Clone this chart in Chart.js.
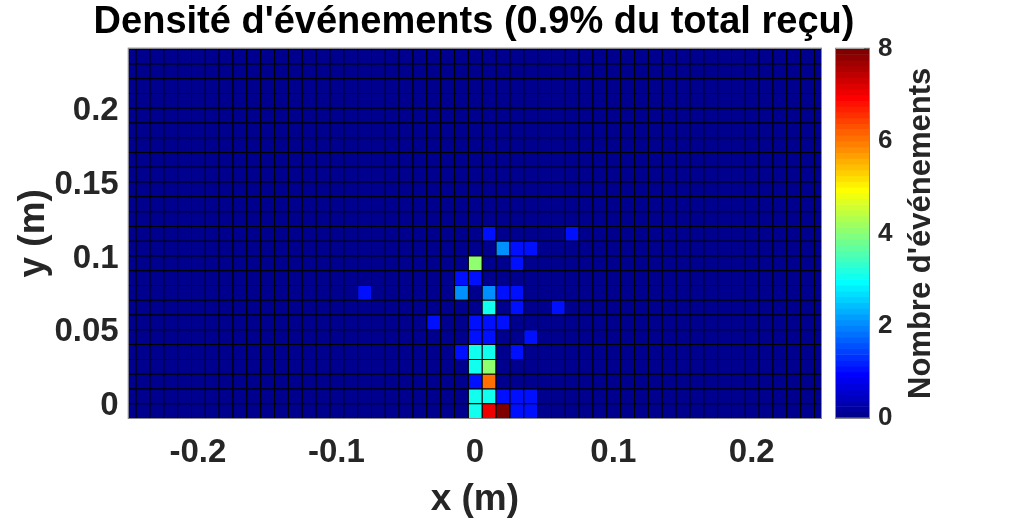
<!DOCTYPE html>
<html lang="fr">
<head>
<meta charset="utf-8">
<title>Densité d'événements</title>
<script src="https://cdn.jsdelivr.net/npm/chart.js@4.4.1/dist/chart.umd.min.js"></script>
<style>
  html, body { margin: 0; padding: 0; background: #fff; }
  #zone { position: relative; width: 1017px; height: 523px; }
  #zone canvas { position: absolute; left: 0; top: 0; }
</style>
</head>
<body>
<div id="zone">
  <!-- la carte fait 948 px : son milieu (474) est celui des axes, le titre y est centré -->
  <canvas id="carte" width="948" height="523"></canvas>
  <canvas id="echelle" width="1017" height="523"></canvas>
</div>
<script>
// Grille de l'histogramme 2D (pas de 1 cm)
const pasBin = 0.01;
const xMin = -0.25, xMax = 0.25;
const yMin = -0.01, yMax = 0.24;
const xCentres = [];
for (let k = -25; k <= 25; k++) xCentres.push(+(k * pasBin).toFixed(2));
const yBords = [];
for (let k = -1; k <= 24; k++) yBords.push(+(k * pasBin).toFixed(2));

// Cases non vides : x du centre, y du bord bas, nombre d'événements
const evtX = [0, 0.01, 0.02, 0.03, 0.04,
              0, 0.01, 0.02, 0.03, 0.04,
              0, 0.01,
              0, 0.01,
              -0.01, 0, 0.01, 0.03,
              0, 0.01, 0.04,
              -0.03, 0, 0.01, 0.02,
              0.01, 0.03, 0.06,
              -0.08, -0.01, 0.01, 0.02, 0.03,
              -0.01, 0,
              0, 0.03,
              0.02, 0.03, 0.04,
              0.01, 0.07];
const evtY = [-0.01, -0.01, -0.01, -0.01, -0.01,
              0, 0, 0, 0, 0,
              0.01, 0.01,
              0.02, 0.02,
              0.03, 0.03, 0.03, 0.03,
              0.04, 0.04, 0.04,
              0.05, 0.05, 0.05, 0.05,
              0.06, 0.06, 0.06,
              0.07, 0.07, 0.07, 0.07, 0.07,
              0.08, 0.08,
              0.09, 0.09,
              0.10, 0.10, 0.10,
              0.11, 0.11];
const evtN = [3, 7, 8, 1, 1,
              3, 3, 1, 1, 1,
              1, 6,
              3, 4,
              1, 3, 3, 1,
              1, 1, 1,
              1, 1, 1, 1,
              3, 1, 1,
              1, 2, 2, 1, 1,
              1, 1,
              4, 1,
              2, 1, 1,
              1, 1];

// Axes
const xTicks = [-0.2, -0.1, 0, 0.1, 0.2];
const xTickLabels = ['-0.2', '-0.1', '0', '0.1', '0.2'];
const yTicks = [0, 0.05, 0.1, 0.15, 0.2];
const yTickLabels = ['0', '0.05', '0.1', '0.15', '0.2'];
const cMax = 8;
const cTicks = [0, 2, 4, 6, 8];

Chart.defaults.font.family = "'Liberation Sans', Arial, sans-serif";
const gris = '#262626';

// palette jet de MATLAB (m couleurs)
function jet(m) {
  const n = Math.ceil(m / 4);
  const u = [];
  for (let i = 1; i <= n; i++) u.push(i / n);
  for (let i = 1; i < n; i++) u.push(1);
  for (let i = n; i >= 1; i--) u.push(i / n);
  const g0 = Math.ceil(n / 2) - (m % 4 === 1 ? 1 : 0);
  const g = [], r = [], b = [];
  for (let k = 1; k <= u.length; k++) {
    const gi = g0 + k;
    if (gi <= m) g.push(gi);
    if (gi + n <= m) r.push(gi + n);
    if (gi - n >= 1) b.push(gi - n);
  }
  const J = Array.from({ length: m }, () => [0, 0, 0]);
  g.forEach((idx, k) => { J[idx - 1][1] = u[k]; });
  r.forEach((idx, k) => { J[idx - 1][0] = u[k]; });
  b.forEach((idx, k) => { J[idx - 1][2] = u[u.length - b.length + k]; });
  return J.map(c => `rgb(${Math.round(c[0] * 255)},${Math.round(c[1] * 255)},${Math.round(c[2] * 255)})`);
}
const palette = jet(64);
const couleurDe = v => palette[Math.min(palette.length, Math.floor(v / cMax * palette.length) + 1) - 1];

// matrice des comptes
const comptes = yBords.slice(0, -1).map(() => xCentres.map(() => 0));
evtN.forEach((n, i) => {
  const c = Math.round((evtX[i] - xCentres[0]) / pasBin);
  const r = Math.round((evtY[i] - yBords[0]) / pasBin);
  comptes[r][c] = n;
});

const cellules = [];
const couleurs = [];
comptes.forEach((ligne, r) => {
  ligne.forEach((n, c) => {
    cellules.push({ x: xCentres[c], y: [yBords[r], yBords[r + 1]] });
    couleurs.push(couleurDe(n));
  });
});

// fond noir sous les cases (les joints restent sombres) + cadre gris
const cadre = {
  id: 'cadre',
  beforeDatasetsDraw(chart, args, opts) {
    if (!opts.fond) return;
    const { ctx, chartArea: a } = chart;
    ctx.save();
    ctx.fillStyle = opts.fond;
    ctx.fillRect(a.left, a.top, a.right - a.left, a.bottom - a.top);
    ctx.restore();
  },
  afterDraw(chart, args, opts) {
    const { ctx, chartArea: a } = chart;
    ctx.save();
    ctx.strokeStyle = opts.couleur;
    ctx.lineWidth = 1;
    ctx.strokeRect(a.left - 0.5, a.top - 0.5, a.right - a.left + 1, a.bottom - a.top + 1);
    ctx.restore();
  }
};

// titre vertical de la barre de couleurs (lu de bas en haut)
const titreEchelle = {
  id: 'titreEchelle',
  afterDraw(chart, args, opts) {
    const { ctx, chartArea: a } = chart;
    ctx.save();
    ctx.translate(opts.x, (a.top + a.bottom) / 2);
    ctx.rotate(-Math.PI / 2);
    ctx.font = `bold ${opts.taille}px 'Liberation Sans', Arial, sans-serif`;
    ctx.fillStyle = gris;
    ctx.textAlign = 'center';
    ctx.textBaseline = 'middle';
    ctx.fillText(opts.texte, 0, 0);
    ctx.restore();
  }
};

new Chart(document.getElementById('carte'), {
  type: 'bar',
  data: {
    datasets: [{
      data: cellules,
      backgroundColor: couleurs,
      borderColor: '#000',
      borderWidth: { top: 1, left: 1, right: 0, bottom: 0 },
      borderSkipped: false,
      inflateAmount: 0,
      categoryPercentage: 1,
      barPercentage: 1,
      grouped: false
    }]
  },
  options: {
    responsive: false,
    animation: false,
    events: [],
    layout: { padding: 0 },
    plugins: {
      legend: { display: false },
      tooltip: { enabled: false },
      title: {
        display: true,
        text: "Densité d'événements (0.9% du total reçu)",
        color: '#000',
        font: { size: 38, weight: 'bold' },
        padding: { top: 0, bottom: 3 }
      },
      cadre: { couleur: '#8a8a8a', fond: '#000' }
    },
    scales: {
      x: {
        type: 'linear',
        min: xMin,
        max: xMax,
        offset: false,
        afterBuildTicks: s => { s.ticks = xTicks.map(v => ({ value: v })); },
        afterFit: s => { s.height = 105; },
        grid: { display: false, drawTicks: false, offset: false },
        border: { display: false },
        ticks: {
          autoSkip: false, maxRotation: 0, padding: 15, color: gris,
          font: { size: 33, weight: 'bold' },
          callback: (v, i) => xTickLabels[i]
        },
        title: {
          display: true, text: 'x (m)', color: gris,
          font: { size: 37, weight: 'bold' },
          padding: { top: 0, bottom: 1 }
        }
      },
      y: {
        type: 'linear',
        min: yMin,
        max: yMax,
        afterBuildTicks: s => { s.ticks = yTicks.map(v => ({ value: v })); },
        afterFit: s => { s.width = 128.7; },
        grid: { display: false, drawTicks: false },
        border: { display: false },
        ticks: {
          autoSkip: false, padding: 10, labelOffset: 3, color: gris,
          font: { size: 33, weight: 'bold' },
          callback: (v, i) => yTickLabels[i]
        },
        title: {
          display: true, text: 'y (m)', color: gris,
          font: { size: 37, weight: 'bold' },
          padding: { top: 12, bottom: 0 }
        }
      },
      // axe vide à droite : réserve la place de la barre de couleurs
      yVide: {
        type: 'linear',
        position: 'right',
        min: yMin,
        max: yMax,
        afterFit: s => { s.width = 948 - 821; },
        grid: { display: false, drawTicks: false },
        border: { display: false },
        ticks: { display: false }
      }
    }
  },
  plugins: [cadre]
});

// barre de couleurs
const bandes = palette.map((c, i) => ({ x: 'cb', y: [i * cMax / palette.length, (i + 1) * cMax / palette.length] }));

new Chart(document.getElementById('echelle'), {
  type: 'bar',
  data: {
    labels: ['cb'],
    datasets: [{
      data: bandes,
      backgroundColor: palette,
      borderWidth: 0,
      categoryPercentage: 1,
      barPercentage: 1,
      grouped: false
    }]
  },
  options: {
    responsive: false,
    animation: false,
    events: [],
    layout: { padding: { left: 836, top: 48.7, right: 0, bottom: 105 } },
    plugins: {
      legend: { display: false },
      tooltip: { enabled: false },
      cadre: { couleur: '#8a8a8a' },
      titreEchelle: { texte: "Nombre d'événements", x: 921, taille: 31 }
    },
    scales: {
      x: { display: false },
      y: {
        position: 'right',
        min: 0,
        max: cMax,
        z: 1,
        afterBuildTicks: s => { s.ticks = cTicks.map(v => ({ value: v })); },
        afterFit: s => { s.width = 1017 - 869; },
        grid: { display: true, drawOnChartArea: false, drawTicks: true, tickLength: -5, color: gris },
        border: { display: false },
        ticks: {
          padding: 14, color: gris,
          font: { size: 26, weight: 'bold' }
        }
      }
    }
  },
  plugins: [cadre, titreEchelle]
});
</script>
</body>
</html>
